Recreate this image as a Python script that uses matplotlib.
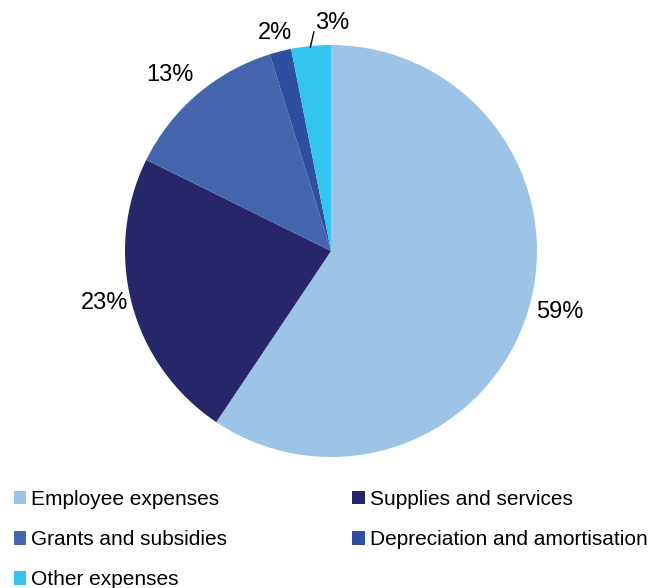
import matplotlib.pyplot as plt

plt.rcParams["font.family"] = ["Liberation Sans", "DejaVu Sans"]

# expense categories and share (%)
categories = [
    "Employee expenses",
    "Supplies and services",
    "Grants and subsidies",
    "Depreciation and amortisation",
    "Other expenses",
]
shares = [59.4, 22.9, 12.9, 1.7, 3.1]
pct_labels = ["59%", "23%", "13%", "2%", "3%"]
colors = ["#9DC3E6", "#262668", "#4566AE", "#2E4EA0", "#33C4F0"]

fig = plt.figure(figsize=(6.56, 5.88), dpi=100)
ax = fig.add_axes([0.1277, 0.1527, 0.7537, 0.8408])

wedges, texts = ax.pie(
    shares,
    colors=colors,
    startangle=90,
    counterclock=False,
    labels=pct_labels,
    labeldistance=1.13,
    textprops={"fontsize": 17},
    wedgeprops={"linewidth": 0},
)
ax.set_xlim(-1.2, 1.2)
ax.set_ylim(-1.2, 1.2)
ax.set_aspect("equal")
ax.axis("off")

# label placement tweaks to match the original
label_pos = [(1.112, -0.296), (-1.097, -0.252), (-0.782, 0.854), (-0.272, 1.058), (0.005, 1.107)]
for t, p in zip(texts, label_pos):
    t.set_ha("center")
    t.set_va("center")
    t.set_position(p)
ax.plot([-0.10, -0.083], [0.99, 1.064], color="black", lw=1)

order = [0, 2, 4, 1, 3]
leg = fig.legend(
    [wedges[i] for i in order],
    [categories[i] for i in order],
    loc="upper left",
    bbox_to_anchor=(0.005, 0.184),
    ncol=2,
    frameon=False,
    fontsize=15,
    handlelength=0.6,
    handleheight=0.6,
    handletextpad=0.25,
    labelspacing=1.01,
    columnspacing=6.0,
    borderpad=0,
)

fig.savefig("out.png", dpi=100)
